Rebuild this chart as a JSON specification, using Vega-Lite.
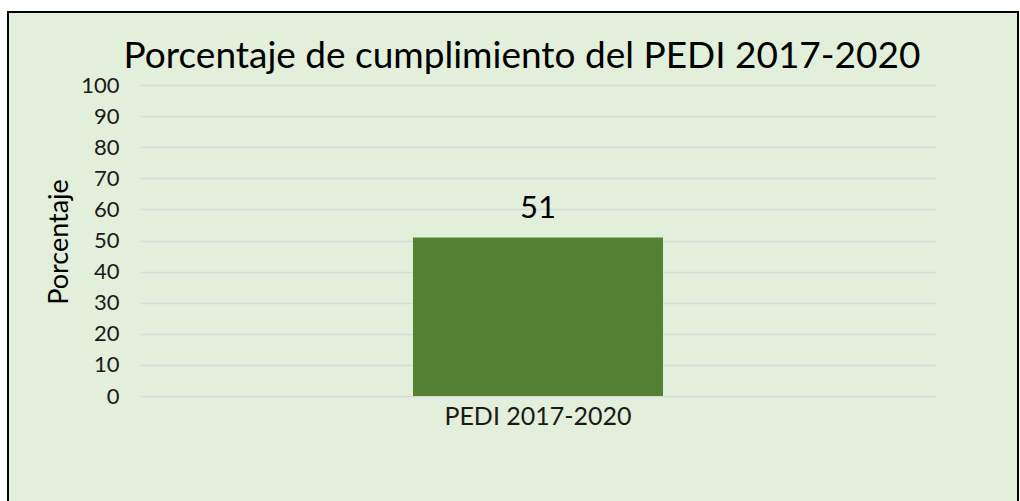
{
  "$schema": "https://vega.github.io/schema/vega-lite/v6.json",
  "width": 1010,
  "height": 491,
  "autosize": {"type": "none"},
  "padding": {"left": 8, "top": 12, "right": 2, "bottom": 0},
  "background": "white",
  "config": {
    "view": {"fill": "#E2EFDA", "stroke": "black", "strokeWidth": 2},
    "font": "Lato"
  },
  "title": {
    "text": "Porcentaje de cumplimiento del PEDI 2017-2020",
    "fontSize": 37,
    "font": "Lato",
    "fontWeight": "normal",
    "color": "black",
    "baseline": "alphabetic",
    "offset": -93,
    "dx": 9
  },
  "data": {"values": [{"categoria": "PEDI 2017-2020", "porcentaje": 51}]},
  "encoding": {
    "x": {
      "field": "categoria",
      "type": "nominal",
      "scale": {"range": [132, 928], "paddingInner": 0.0842, "paddingOuter": 1},
      "axis": {
        "title": null,
        "labelAngle": 0,
        "domain": false,
        "ticks": false,
        "tickSize": 0,
        "labelPadding": 8,
        "labelFontSize": 25,
        "labelLimit": 0,
        "labelColor": "#1a1a1a",
        "labelBaseline": "top",
        "offset": -107
      }
    },
    "y": {
      "field": "porcentaje",
      "type": "quantitative",
      "scale": {"domain": [0, 100], "range": [384, 73], "nice": false},
      "axis": {
        "title": "Porcentaje",
        "values": [0, 10, 20, 30, 40, 50, 60, 70, 80, 90, 100],
        "domain": false,
        "ticks": false,
        "tickSize": 0,
        "labelPadding": 21,
        "labelFontSize": 22,
        "labelColor": "#1a1a1a",
        "gridColor": "#D9D9D9",
        "gridWidth": 1.5,
        "offset": -132,
        "titleFontSize": 27,
        "titleFontWeight": "normal",
        "titleColor": "black",
        "titleAngle": -90,
        "titleX": -73,
        "titleY": 229.5,
        "titleBaseline": "alphabetic",
        "titleAlign": "center"
      }
    }
  },
  "layer": [
    {"mark": {"type": "bar", "color": "#548235"}},
    {
      "mark": {"type": "text", "dy": -19, "baseline": "alphabetic", "fontSize": 31, "color": "black"},
      "encoding": {"text": {"field": "porcentaje", "type": "quantitative"}}
    }
  ]
}
